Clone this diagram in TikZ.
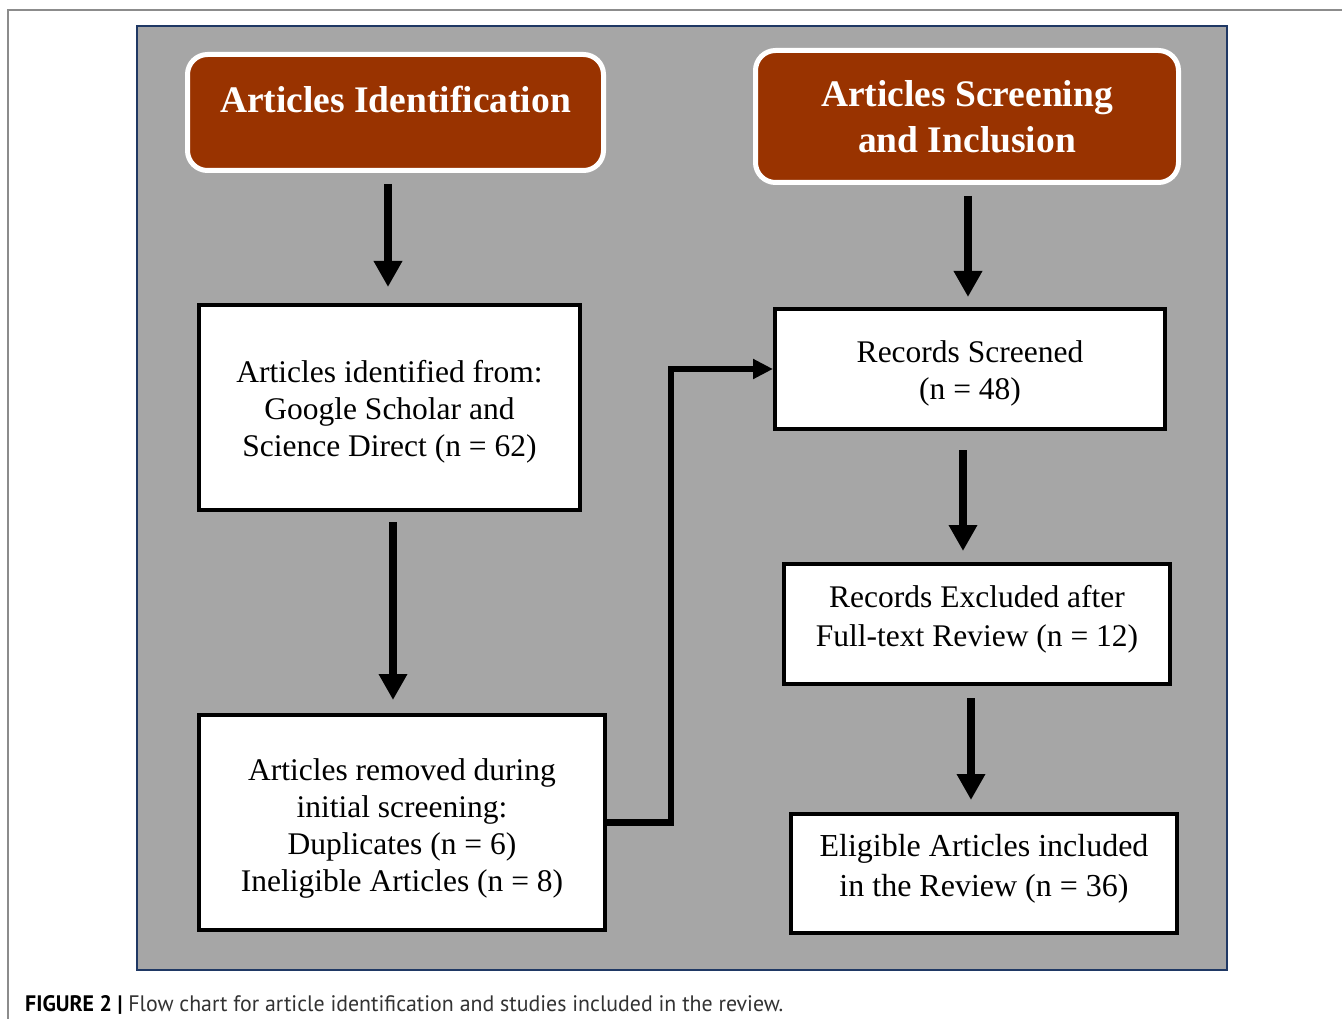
\documentclass[tikz,border=0pt]{standalone}
\usepackage{fontspec}
\setmainfont{Liberation Serif}
\newfontfamily\capfont{PT Sans}
\usetikzlibrary{arrows.meta,calc}
\definecolor{panelgray}{HTML}{A6A6A6}
\definecolor{navyline}{HTML}{1F3864}
\definecolor{hdrbrown}{HTML}{993300}
\definecolor{framegray}{HTML}{8C8C8C}
\definecolor{captext}{HTML}{333333}
\newcommand{\uptop}[1]{\rule{0pt}{#1}}
\newcommand{\downbot}[1]{\rule[-#1]{0pt}{0pt}}
\begin{document}
\begin{tikzpicture}[x=1pt,y=-1pt,
 hdr/.style={draw=white, line width=5pt, fill=hdrbrown, rounded corners=20pt, text=white,
   font=\fontsize{37.5}{46}\selectfont\bfseries, align=center, inner sep=0pt},
 box/.style={draw=black, line width=4pt, fill=white,
   font=\fontsize{31.5}{37}\selectfont, align=center, inner sep=0pt},
 arr/.style={draw=black, line width=8pt, -{Triangle[width=27pt,length=26pt]}},
 elb/.style={draw=black, line width=6.5pt, -{Triangle[width=19pt,length=20pt]}}]
\useasboundingbox (0,0) rectangle (1342,1019);
\fill[white] (0,0) rectangle (1342,1019);
% page frame
\draw[framegray, line width=1.5pt] (1342,10) -- (8,10) -- (8,1019);
% panel
\draw[navyline, line width=2.5pt, fill=panelgray] (137,26) rectangle (1227,970);
% headers
\node[hdr, minimum width=416pt, minimum height=116pt, text height=26pt, text depth=25pt] (h1) at (395.5,112.5) {Articles Identification};
\node[hdr, minimum width=423pt, minimum height=132pt] (h2) at (967,116.5) {Articles Screening\\and Inclusion};
% boxes
\node[box, minimum width=381pt, minimum height=205pt] (b1) at (389.5,407.5) {\uptop{31.5pt}Articles identified from:\\Google Scholar and\\Science Direct (n = 62)};
\node[box, minimum width=406pt, minimum height=215pt] (b2) at (402,822.5) {\uptop{33.5pt}Articles removed during\\initial screening:\\Duplicates (n = 6)\\Ineligible Articles (n = 8)};
\node[box, minimum width=390pt, minimum height=120pt] (b3) at (970,369) {\uptop{31.5pt}Records Screened\\(n = 48)};
\node[box, minimum width=386pt, minimum height=120pt, font=\fontsize{31.5}{39}\selectfont] (b4) at (977,624) {Records Excluded after\\Full-text Review (n = 12)\downbot{15.6pt}};
\node[box, minimum width=386pt, minimum height=119pt, font=\fontsize{32}{40}\selectfont] (b5) at (984,873.5) {Eligible Articles included\\in the Review (n = 36)\downbot{15.7pt}};
% arrows
\draw[arr] ([xshift=-1.5pt,yshift=-11pt]b1.north |- h1.south) -- ([xshift=-1.5pt,yshift=16pt]b1.north);
\draw[arr] ([xshift=-2pt,yshift=-11pt]b3.north |- h2.south) -- ([xshift=-2pt,yshift=10pt]b3.north);
\draw[arr] ([xshift=3.5pt,yshift=-10pt]b1.south) -- ([xshift=3.5pt,yshift=13pt]b1.south |- b2.north);
\draw[arr] ([xshift=-7pt,yshift=-19pt]b3.south) -- ([xshift=-7pt,yshift=11pt]b3.south |- b4.north);
\draw[arr] ([xshift=-6pt,yshift=-12pt]b4.south) -- ([xshift=-6pt,yshift=12pt]b4.south |- b5.north);
\draw[elb] (b2.east) -| ($(b3.west)+(-102,0)$) -- (b3.west);
% caption
\node[anchor=base west, inner sep=0pt] (cap) at (25,1011) {\resizebox{758pt}{16pt}{\capfont\textbf{FIGURE 2 |} {\color{captext}Flow chart for article identification and studies included in the review.}}};
\end{tikzpicture}
\end{document}
